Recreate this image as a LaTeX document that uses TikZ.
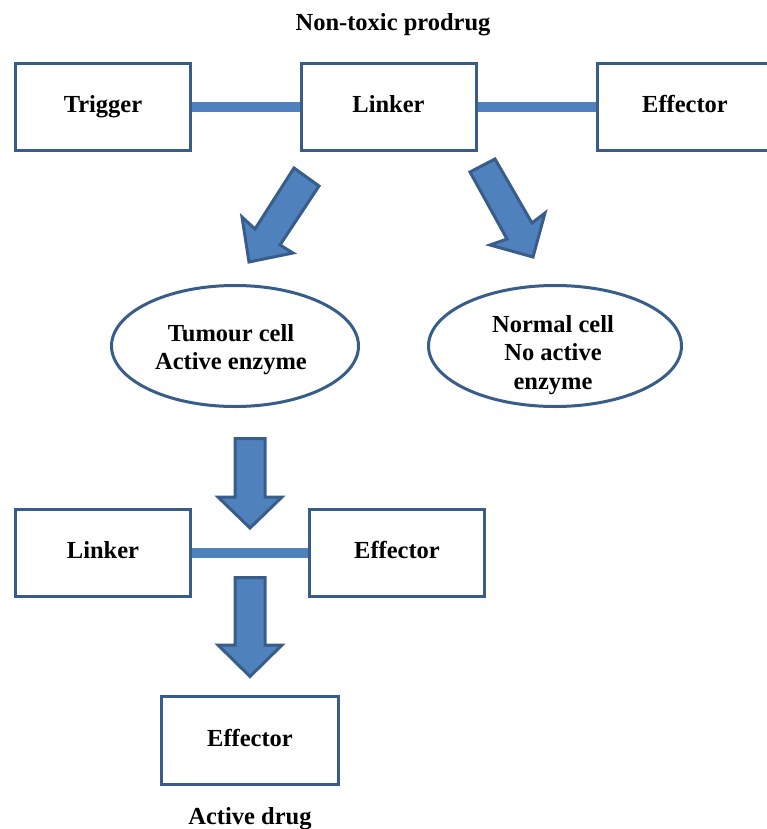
\documentclass[tikz,border=0pt]{standalone}
\usepackage{fontspec}
\setmainfont{Liberation Serif}
\usetikzlibrary{shapes.geometric}
\definecolor{bdr}{HTML}{385D8A}
\definecolor{fil}{HTML}{4F81BD}
\tikzset{
  box/.style={draw=bdr, line width=3pt, rectangle, minimum width=175pt, minimum height=87pt, inner sep=0pt, fill=white, text height=17pt, text depth=6pt, font=\bfseries\fontsize{24.5}{28.5}\selectfont},
  cell/.style={draw=bdr, line width=3pt, ellipse, inner sep=0pt},
  celltext/.style={align=center, inner sep=0pt, font=\bfseries\fontsize{24.5}{28.5}\selectfont},
  lbl/.style={font=\bfseries\fontsize{24.5}{28.5}\selectfont},
  bar/.style={draw=fil, line width=10pt},
  blockarrow/.style={draw=bdr, fill=fil, line width=3pt, line join=miter}
}
\begin{document}
\begin{tikzpicture}[x=1pt,y=-1pt]
\useasboundingbox (0,0) rectangle (767,829);
% title
\node[lbl] (title) at (393,25) {Non-toxic prodrug};
% top row
\node[box] (trig) at (103,107.5) {Trigger};
\node[box] (link) at (388.5,107.5) {Linker};
\node[box] (eff) at (685,107.5) {Effector};
\draw[bar] (trig.east) -- (link.west);
\draw[bar] (link.east) -- (eff.west);
% diagonal block arrows
\draw[blockarrow] (294,168) -- (319,186) -- (280,245) -- (293,253) -- (249,262) -- (242,217) -- (255,229) -- cycle;
\draw[blockarrow] (470,172) -- (495,159) -- (532,223) -- (545,213) -- (533,257) -- (490,245) -- (507,239) -- cycle;
% cells
\node[cell, minimum width=247pt, minimum height=121pt] (tum) at (235,346) {};
\node[celltext] (tumtxt) at (231,349.5) {Tumour cell\\Active enzyme};
\node[cell, minimum width=253pt, minimum height=121pt] (norm) at (555,346) {};
\node[celltext] (normtxt) at (553,355) {Normal cell\\No active\\enzyme};
% down arrow 1
\draw[blockarrow] (235,438.5) -- (265,438.5) -- (265,497) -- (282,497) -- (250,528) -- (218,497) -- (235,497) -- cycle;
% second row
\node[box] (link2) at (103,552.5) {Linker};
\node[box] (eff2) at (397,552.5) {Effector};
\draw[bar] (link2.east) -- (eff2.west);
% down arrow 2
\draw[blockarrow] (235,577.5) -- (265,577.5) -- (265,645) -- (282,645) -- (250,676.5) -- (218,645) -- (235,645) -- cycle;
% final
\node[box, minimum width=177pt, minimum height=88pt] (eff3) at (250,740.5) {Effector};
\node[lbl] (active) at (250,819) {Active drug};
\end{tikzpicture}
\end{document}
